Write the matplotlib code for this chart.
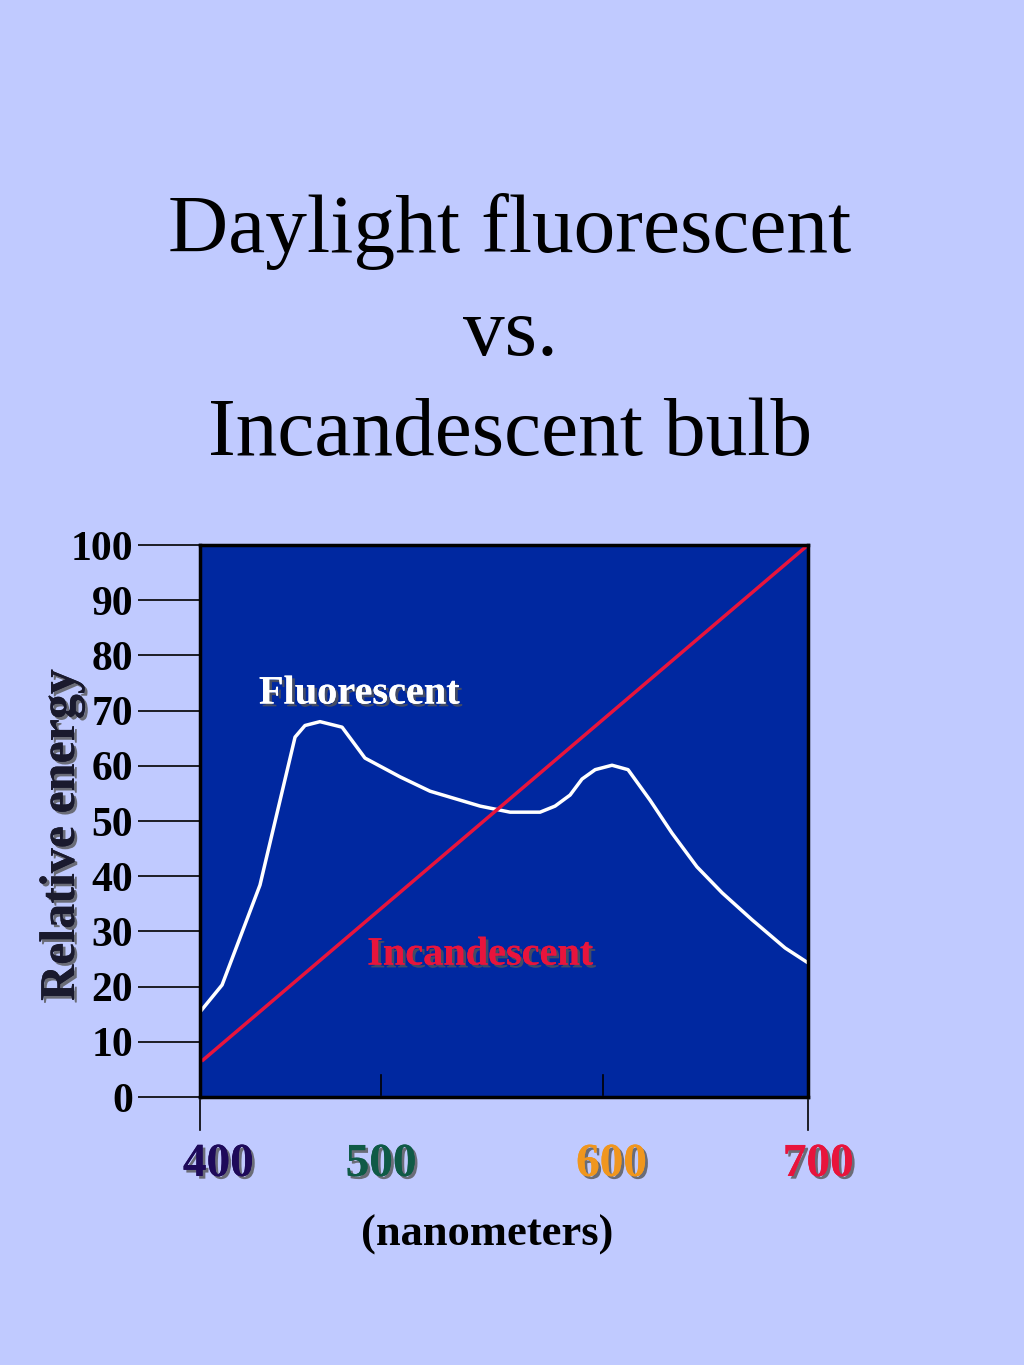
import matplotlib
matplotlib.use("Agg")
import matplotlib.pyplot as plt
import matplotlib.patheffects as pe

fl_x = [400, 410.9, 429.6, 446.9, 451.8, 459.2, 470.1, 481.4, 498.7, 513.5, 538.2, 553.0, 567.8,
        575.2, 582.6, 588.5, 595.0, 603.3, 611.2, 622.0, 632.9, 645.2, 657.6, 672.4, 688.7, 700]
fl_y = [15.4, 20.3, 38.4, 65.2, 67.3, 68.0, 67.0, 61.4, 58.0, 55.4, 52.7, 51.6, 51.6,
        52.7, 54.7, 57.6, 59.3, 60.1, 59.3, 53.8, 47.8, 41.7, 37.0, 32.1, 27.0, 24.3]
inc_x = [401.5, 700]
inc_y = [6.7, 100]
yticks = [0, 10, 20, 30, 40, 50, 60, 70, 80, 90, 100]
xtick_lab = ["400", "500", "600", "700"]
xtick_col = ["#1E0A5A", "#0F5A46", "#F0961E", "#E8143C"]

plt.rcParams['font.family'] = ['Liberation Serif', 'DejaVu Serif']
bg = "#C0CAFF"
fig = plt.figure(figsize=(10.24, 13.65), dpi=100, facecolor=bg)
ax = fig.add_axes([200/1024, 1-1097/1365, 608/1024, 552/1365])
ax.set_facecolor("#0028A0")
ax.set_xlim(400, 700)
ax.set_ylim(0, 100)
for s in ax.spines.values():
    s.set_color("black"); s.set_linewidth(2.5)
shadow = [pe.withSimplePatchShadow(offset=(2, -2), shadow_rgbFace="#555555", alpha=0.8), pe.Normal()]

ax.plot(fl_x, fl_y, color="white", lw=2.5)
ax.plot(inc_x, inc_y, color="#E8143C", lw=2.5)
ax.text(0.097, 0.73, "Fluorescent", transform=ax.transAxes, color="white", fontsize=29,
        fontweight="bold", va="center", path_effects=shadow)
ax.text(0.275, 0.257, "Incandescent", transform=ax.transAxes, color="#E8143C", fontsize=29,
        fontweight="bold", va="center", path_effects=shadow)

ax.set_yticks(yticks)
ax.tick_params(axis='y', direction='out', length=45, width=1.2, labelsize=30, pad=3)
for t in ax.get_yticklabels():
    t.set_fontweight("bold")
ax.set_xticks([])
ax.plot([400, 400], [-0.6, -6], color="black", lw=1.2, clip_on=False)
ax.plot([700, 700], [-0.6, -6], color="black", lw=1.2, clip_on=False)
ax.plot([489.3, 489.3], [0.4, 4], color="black", lw=1.2)
ax.plot([598.8, 598.8], [0.4, 4], color="black", lw=1.2)
lab_x = [409, 489.3, 603, 705]
for x, l, c in zip(lab_x, xtick_lab, xtick_col):
    ax.text(x, -12.3, l, color=c, fontsize=34, fontweight="bold", ha="center", va="center",
            path_effects=shadow, clip_on=False)
ax.text(0.472, -0.25, "(nanometers)", transform=ax.transAxes, fontsize=32, fontweight="bold",
        ha="center", va="center")
ax.text(-0.227, 0.475, "Relative energy", transform=ax.transAxes, fontsize=36, fontweight="bold",
        rotation=90, ha="center", va="center", color="#1A1A2E", path_effects=shadow)

for y, t in [(232, "Daylight fluorescent"), (335, "vs."), (435, "Incandescent bulb")]:
    fig.text(510/1024, 1-y/1365, t, fontsize=60, ha="center", va="center")

fig.savefig("out.png", dpi=100, facecolor=bg)
